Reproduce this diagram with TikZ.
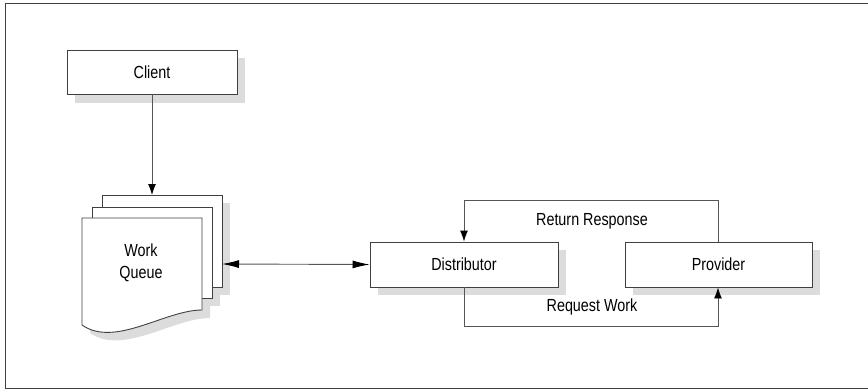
\documentclass[tikz,border=0pt]{standalone}
\usepackage{fontspec}
\setmainfont[FakeStretch=0.82]{Liberation Sans}
\usetikzlibrary{arrows.meta}
\definecolor{shadowgray}{HTML}{DCDCDC}
\definecolor{edgegray}{HTML}{404040}
\definecolor{linegray}{HTML}{555555}
\tikzset{
  boxnode/.style={draw=edgegray, line width=0.9pt, fill=white, inner sep=0pt, font=\fontsize{17.5}{21}\selectfont},
  shadowfill/.style={fill=shadowgray, draw=none},
  pageedge/.style={draw=edgegray, line width=0.9pt, fill=white},
  conn/.style={draw=linegray, line width=0.9pt},
  tipa/.style={-{Latex[length=11pt,width=8pt,color=black]}},
  lbl/.style={font=\fontsize{17.5}{21.5}\selectfont, inner sep=0pt}
}
\begin{document}
\begin{tikzpicture}[x=1pt,y=-1pt]
\useasboundingbox (0,0) rectangle (868,389);
% outer frame
\draw[draw=edgegray, line width=1pt] (870,3.5) -- (5.5,3.5) -- (5.5,388) -- (870,388);

% shadows
\fill[shadowfill] (75,58) rectangle (245,103);
\fill[shadowfill] (378,250) rectangle (566,295);
\fill[shadowfill] (633,250) rectangle (820,295);
\fill[shadowfill] (110,203) rectangle (230,295);
\fill[shadowfill] (100,215) rectangle (220,306);
\fill[shadowfill] (90,226) -- (210,226) -- (210,318) .. controls (173,318) and (123,356) .. (90,333) -- cycle;

% client
\node[boxnode, minimum width=170pt, minimum height=44pt] (client) at (152,72) {Client};

% work queue pages
\draw[pageedge] (102,195) rectangle (222,287);
\draw[pageedge] (92,207) rectangle (212,298);
\draw[pageedge] (82,218) -- (202,218) -- (202,310) .. controls (165,310) and (115,348) .. (82,325) -- cycle;
\coordinate (qtop) at (152,195);
\coordinate (qright) at (222,264);
\node[lbl, align=center] (queue) at (141,263) {Work\\Queue};

% distributor and provider
\node[boxnode, minimum width=188pt, minimum height=45pt] (dist) at (464,264.5) {Distributor};
\node[boxnode, minimum width=187pt, minimum height=45pt] (prov) at (718.5,264.5) {Provider};

% connectors
\draw[conn, tipa] (client.south) -- (qtop);
\draw[conn, {Latex[length=17pt,width=8pt,color=black]}-{Latex[length=17pt,width=8pt,color=black]}] (qright) -- (dist.west);
\draw[conn, tipa] (prov.north -| 718,0) |- (464,200) -- (dist.north -| 464,0);
\draw[conn, tipa] (dist.south -| 464,0) |- (718,326) -- (prov.south -| 718,0);

\node[lbl] (ret) at (592,221) {Return Response};
\node[lbl] (req) at (592,307) {Request Work};
\end{tikzpicture}
\end{document}
